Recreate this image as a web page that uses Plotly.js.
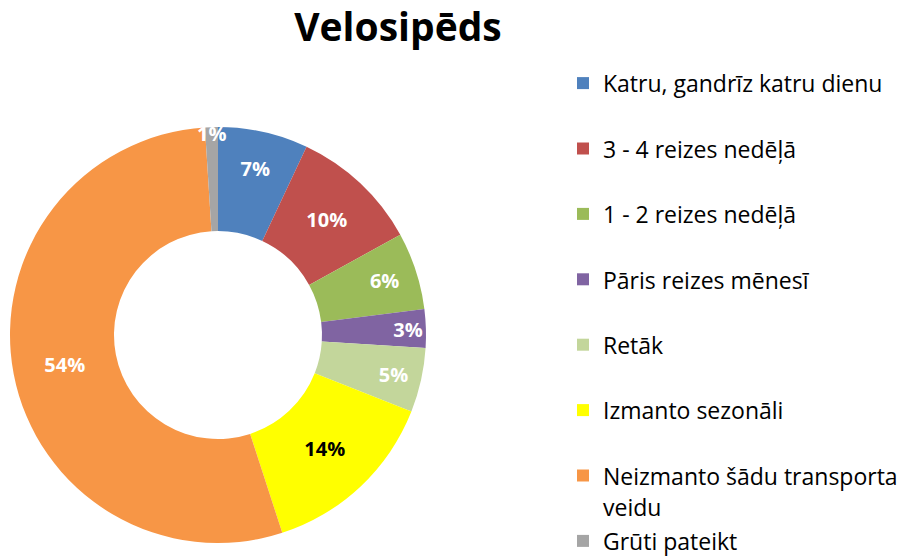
<!DOCTYPE html>
<html>
<head>
<meta charset="utf-8">
<script src="https://cdn.plot.ly/plotly-3.0.1.min.js"></script>
<style>html,body{margin:0;padding:0;background:#fff;}#chart{width:905px;height:559px;}</style>
</head>
<body>
<div id="chart"></div>
<script>
var categories = ["Katru, gandrīz katru dienu", "3 - 4 reizes nedēļā", "1 - 2 reizes nedēļā", "Pāris reizes mēnesī", "Retāk", "Izmanto sezonāli", "Neizmanto šādu transporta<br>veidu", "Grūti pateikt"];
var values = [7, 10, 6, 3, 5, 14, 54, 1];
var valueLabels = ["7%", "10%", "6%", "3%", "5%", "14%", "54%", "1%"];
var colors = ["#4F81BD", "#C0504D", "#9BBB59", "#8064A2", "#C3D69B", "#FFFF00", "#F79646", "#A5A5A5"];
var textColors = ["#FFFFFF", "#FFFFFF", "#FFFFFF", "#FFFFFF", "#FFFFFF", "#000000", "#FFFFFF", "#FFFFFF"];
var chartTitle = "Velosipēds";

var FONT = "'Open Sans', sans-serif";
var LEGEND_TEXT_SIZE = 23;

// each legend entry takes two lines of space, like the reference
var legendLabels = categories.map(function (c, i) {
  var lines = c.split("<br>");
  var styled = lines.map(function (l) {
    return "<span style='font-size:" + LEGEND_TEXT_SIZE + "px'>" + l + "</span>";
  }).join("<br>");
  if (i < categories.length - 1 && lines.length < 2) styled += "<br> ";
  return styled;
});

var trace = {
  type: "pie",
  labels: legendLabels,
  values: values,
  text: valueLabels,
  textinfo: "text",
  textposition: "inside",
  insidetextorientation: "horizontal",
  insidetextfont: {family: FONT, size: 20, weight: 700, color: textColors},
  hole: 0.5,
  sort: false,
  direction: "clockwise",
  rotation: 0,
  marker: {colors: colors, line: {width: 0}},
  domain: {x: [10/905, 426/905], y: [16/559, 432/559]},
  hoverinfo: "label+percent"
};

var layout = {
  width: 905, height: 559,
  margin: {l: 0, r: 0, t: 0, b: 0, autoexpand: false},
  paper_bgcolor: "#FFFFFF",
  title: {text: "<b>" + chartTitle + "</b>", font: {family: FONT, size: 39, color: "#000000"}, x: 398/905, xanchor: "center", y: 1 - 27/559, yanchor: "middle"},
  showlegend: true,
  legend: {x: 563/905, y: 1 - 61/559, xanchor: "left", yanchor: "top", valign: "top", font: {family: FONT, size: 24, color: "#000000"}, bgcolor: "rgba(0,0,0,0)"},
  uniformtext: {minsize: 20, mode: "show"}
};

Plotly.newPlot("chart", [trace], layout, {displayModeBar: false, staticPlot: true});
</script>
</body>
</html>
